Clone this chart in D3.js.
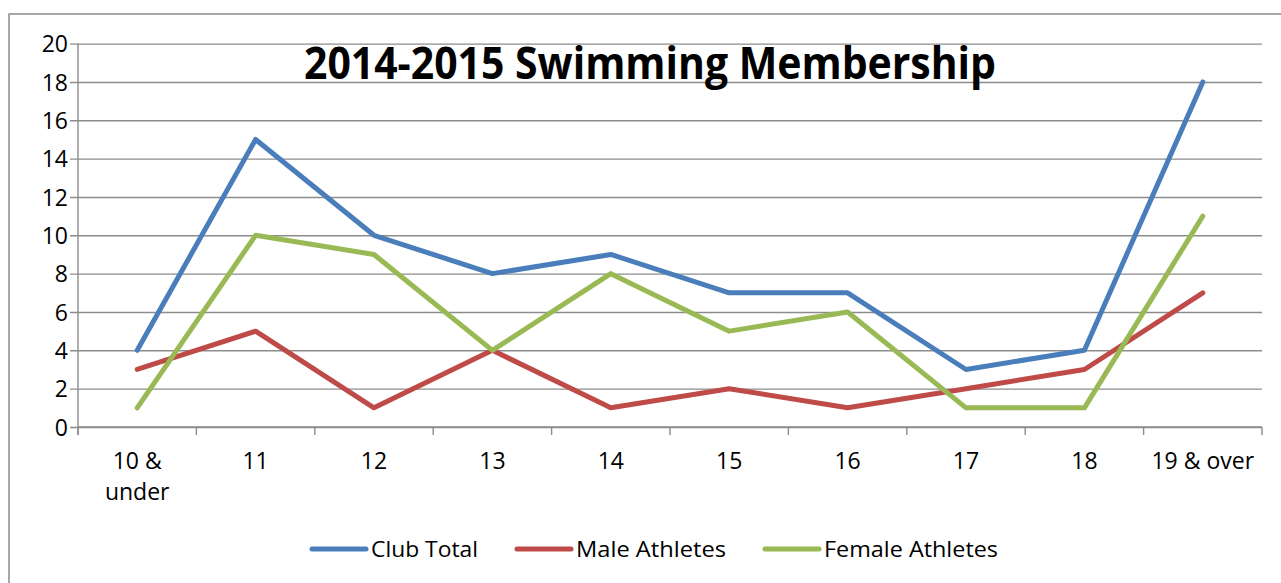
<!DOCTYPE html>
<html>
<head>
<meta charset="utf-8">
<script src="https://cdn.jsdelivr.net/npm/d3@7"></script>
<style>
  html, body { margin: 0; padding: 0; background: #fff; }
  svg { display: block; }
  text { font-family: "Open Sans", "Liberation Sans", sans-serif; fill: #000; }
</style>
</head>
<body>
<svg id="chart" width="1281" height="583"></svg>
<script>
// Age groups along the x axis
const categories = ["10 & under", "11", "12", "13", "14", "15", "16", "17", "18", "19 & over"];
// Members per age group
const clubTotal      = [4, 15, 10, 8, 9, 7, 7, 3, 4, 18];
const maleAthletes   = [3, 5, 1, 4, 1, 2, 1, 2, 3, 7];
const femaleAthletes = [1, 10, 9, 4, 8, 5, 6, 1, 1, 11];
const seriesNames  = ["Club Total", "Male Athletes", "Female Athletes"];
const seriesColors = ["#4a7ebb", "#be4b48", "#98b954"];
const yTicks = [0, 2, 4, 6, 8, 10, 12, 14, 16, 18, 20];
const title = "2014-2015 Swimming Membership";

const series = [clubTotal, maleAthletes, femaleAthletes];

const svg = d3.select("#chart");
const plot = { left: 78, right: 1262, top: 43.6, bottom: 427 };
const grid = "#8c8c8c";

// Chart area frame
svg.append("rect")
  .attr("x", 9).attr("y", 14)
  .attr("width", 1300).attr("height", 620)
  .attr("fill", "none").attr("stroke", grid).attr("stroke-width", 1.5);

const x = d3.scaleBand().domain(categories).range([plot.left, plot.right]).padding(0);
const y = d3.scaleLinear().domain([0, 20]).range([plot.bottom, plot.top]);

// Horizontal gridlines with the y axis labels
const yAxis = d3.axisLeft(y).tickValues(yTicks).tickSize(-(plot.right - plot.left) - 8).tickPadding(18);
const gy = svg.append("g").attr("transform", `translate(${plot.left - 8},0)`).call(yAxis);
gy.select(".domain").remove();
gy.selectAll(".tick line").attr("stroke", grid).attr("stroke-width", 1.4)
  .attr("x1", 0).attr("x2", plot.right - plot.left + 8);
gy.selectAll(".tick text")
  .attr("font-size", 23).attr("x", -2).attr("dy", "0.36em")
  .attr("text-anchor", "end").style("font-family", '"Open Sans", sans-serif');

// Vertical axis line
svg.append("line")
  .attr("x1", plot.left).attr("x2", plot.left)
  .attr("y1", plot.top).attr("y2", plot.bottom + 8)
  .attr("stroke", grid).attr("stroke-width", 1.4);

// Category axis: tick marks on band boundaries
svg.append("line")
  .attr("x1", plot.left).attr("x2", plot.right)
  .attr("y1", plot.bottom).attr("y2", plot.bottom)
  .attr("stroke", grid).attr("stroke-width", 1.4);
const bounds = categories.map(c => x(c)).concat([plot.right]);
svg.append("g").selectAll("line").data(bounds).join("line")
  .attr("x1", d => d).attr("x2", d => d)
  .attr("y1", plot.bottom).attr("y2", plot.bottom + 8)
  .attr("stroke", grid).attr("stroke-width", 1.4);

// Category labels, wrapped where Excel wraps them
const wrap = { "10 & under": ["10 &", "under"] };
const xl = svg.append("g").selectAll("text").data(categories).join("text")
  .attr("x", d => x(d) + x.bandwidth() / 2)
  .attr("y", 469)
  .attr("text-anchor", "middle")
  .attr("font-size", 23);
xl.each(function(d) {
  const lines = wrap[d] || [d];
  d3.select(this).selectAll("tspan").data(lines).join("tspan")
    .attr("x", x(d) + x.bandwidth() / 2)
    .attr("dy", (l, i) => i === 0 ? 0 : 31)
    .text(l => l);
});

// Series lines
const line = d3.line()
  .x((v, i) => x(categories[i]) + x.bandwidth() / 2)
  .y(v => y(v));
svg.append("g").selectAll("path").data(series).join("path")
  .attr("d", line)
  .attr("fill", "none")
  .attr("stroke", (d, i) => seriesColors[i])
  .attr("stroke-width", 5)
  .attr("stroke-linecap", "round")
  .attr("stroke-linejoin", "round");

// Title
svg.append("text")
  .attr("x", 650).attr("y", 79)
  .attr("text-anchor", "middle")
  .attr("font-size", 44).attr("font-weight", "bold")
  .attr("textLength", 692).attr("lengthAdjust", "spacingAndGlyphs")
  .text(title);

// Legend
const legendItems = [
  { name: seriesNames[0], color: seriesColors[0], x: 312, w: 107 },
  { name: seriesNames[1], color: seriesColors[1], x: 517, w: 150 },
  { name: seriesNames[2], color: seriesColors[2], x: 765, w: 174 }
];
const lg = svg.append("g").selectAll("g").data(legendItems).join("g")
  .attr("transform", d => `translate(${d.x},549)`);
lg.append("line")
  .attr("x1", 0).attr("x2", 54).attr("y1", 0).attr("y2", 0)
  .attr("stroke", d => d.color).attr("stroke-width", 5).attr("stroke-linecap", "round");
lg.append("text")
  .attr("x", 59).attr("y", 0).attr("dy", "0.36em")
  .attr("font-size", 22)
  .attr("textLength", d => d.w).attr("lengthAdjust", "spacingAndGlyphs")
  .text(d => d.name);
</script>
</body>
</html>
